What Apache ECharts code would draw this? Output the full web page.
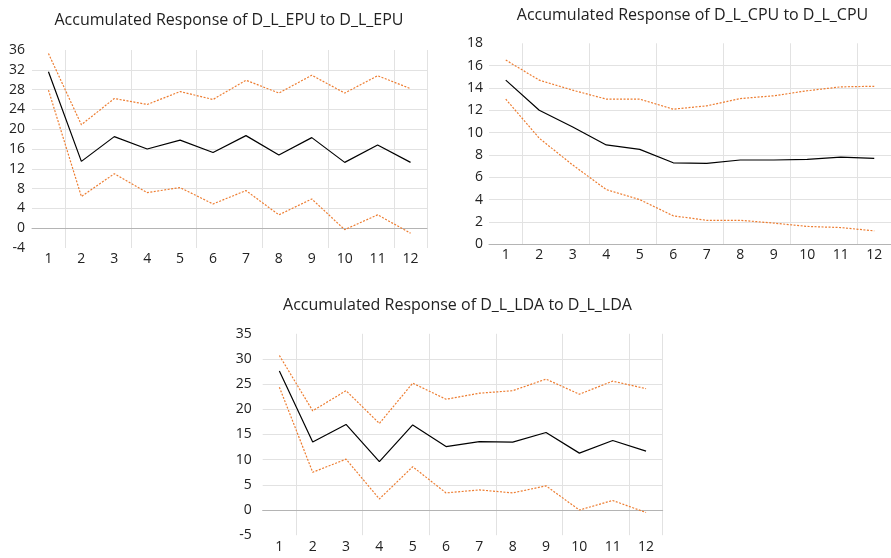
<!DOCTYPE html>
<html>
<head>
<meta charset="utf-8">
<script src="https://cdn.jsdelivr.net/npm/echarts@6/dist/echarts.min.js"></script>
<style>html,body{margin:0;padding:0;background:#fff;}#c{width:891px;height:558px;}</style>
</head>
<body>
<div id="c"></div>
<script>
const periods = ['1','2','3','4','5','6','7','8','9','10','11','12'];

const titles = [
  'Accumulated Response of D_L_EPU to D_L_EPU',
  'Accumulated Response of D_L_CPU to D_L_CPU',
  'Accumulated Response of D_L_LDA to D_L_LDA'
];

// Panel 1: EPU
const epuResp  = [31.6, 13.5, 18.5, 16.0, 17.8, 15.3, 18.7, 14.8, 18.3, 13.3, 16.8, 13.3];
const epuUpper = [35.3, 20.9, 26.2, 25.0, 27.6, 26.0, 29.9, 27.3, 30.9, 27.3, 30.8, 28.2];
const epuLower = [27.9, 6.4, 11.0, 7.2, 8.2, 4.9, 7.6, 2.7, 5.9, -0.3, 2.7, -1.0];

// Panel 2: CPU
const cpuResp  = [14.7, 12.0, 10.5, 8.9, 8.5, 7.3, 7.25, 7.55, 7.55, 7.6, 7.8, 7.7];
const cpuUpper = [16.5, 14.7, 13.8, 13.0, 13.0, 12.1, 12.4, 13.05, 13.3, 13.75, 14.1, 14.15];
const cpuLower = [13.0, 9.5, 7.1, 4.9, 4.0, 2.55, 2.15, 2.15, 1.9, 1.6, 1.5, 1.2];

// Panel 3: LDA
const ldaResp  = [27.6, 13.5, 17.0, 9.6, 16.9, 12.6, 13.6, 13.5, 15.4, 11.3, 13.8, 11.7];
const ldaUpper = [30.7, 19.7, 23.7, 17.2, 25.2, 22.0, 23.2, 23.7, 26.0, 23.0, 25.6, 24.1];
const ldaLower = [24.4, 7.5, 10.1, 2.2, 8.6, 3.4, 4.0, 3.4, 4.8, 0.0, 1.9, -0.5];

const yAxes = [
  {min: -4, max: 36, interval: 4},
  {min: 0, max: 18, interval: 2},
  {min: -5, max: 35, interval: 5}
];

const FONT = '"Open Sans", sans-serif';
const ORANGE = '#ED7D31';
const TEXT = '#222222';

const grids = [
  {left: 32, top: 50, width: 395, height: 198},
  {left: 489, top: 43.3, width: 402, height: 201},
  {left: 262.7, top: 333.8, width: 400, height: 201.4}
];
const titlePos = [
  {x: 229, y: 12.5},
  {x: 692.5, y: 7},
  {x: 457.5, y: 297}
];
const yLabelMargin = [7, 6, 11];
const xLabelMargin = [4, 4, 5];

const panels = [
  [epuResp, epuUpper, epuLower],
  [cpuResp, cpuUpper, cpuLower],
  [ldaResp, ldaUpper, ldaLower]
];

const option = {
  backgroundColor: '#fff',
  animation: false,
  title: titles.map((t, i) => ({
    text: t,
    left: titlePos[i].x,
    top: titlePos[i].y,
    textAlign: 'center',
    padding: 0,
    textStyle: {fontFamily: FONT, fontSize: 16, fontWeight: 'normal', color: TEXT}
  })),
  grid: grids.map(g => Object.assign({containLabel: false}, g)),
  xAxis: panels.map((p, i) => ({
    type: 'category',
    gridIndex: i,
    data: periods,
    boundaryGap: true,
    axisLine: {show: true, onZero: true, lineStyle: {color: '#b4b4b4', width: 1}},
    axisTick: {show: false},
    axisLabel: {fontFamily: FONT, fontSize: 14, color: TEXT, margin: xLabelMargin[i], interval: 0},
    splitLine: {show: true, interval: (idx) => idx % 2 === 1, lineStyle: {color: '#e2e2e2', width: 1}}
  })),
  yAxis: panels.map((p, i) => ({
    type: 'value',
    gridIndex: i,
    min: yAxes[i].min,
    max: yAxes[i].max,
    interval: yAxes[i].interval,
    axisLine: {show: false},
    axisTick: {show: false},
    axisLabel: {fontFamily: FONT, fontSize: 14, color: TEXT, margin: yLabelMargin[i]},
    splitLine: {show: true, showMinLine: false, showMaxLine: false, lineStyle: {color: '#e2e2e2', width: 1}}
  })),
  series: []
};

panels.forEach((p, i) => {
  option.series.push({
    type: 'line', xAxisIndex: i, yAxisIndex: i, data: p[1],
    symbol: 'none', lineStyle: {color: ORANGE, width: 1.2, type: [2, 1.5]}, z: 2
  });
  option.series.push({
    type: 'line', xAxisIndex: i, yAxisIndex: i, data: p[2],
    symbol: 'none', lineStyle: {color: ORANGE, width: 1.2, type: [2, 1.5]}, z: 2
  });
  option.series.push({
    type: 'line', xAxisIndex: i, yAxisIndex: i, data: p[0],
    symbol: 'none', lineStyle: {color: '#000', width: 1.2}, z: 3
  });
});

const chart = echarts.init(document.getElementById('c'), null, {renderer: 'canvas'});
chart.setOption(option);
</script>
</body>
</html>
